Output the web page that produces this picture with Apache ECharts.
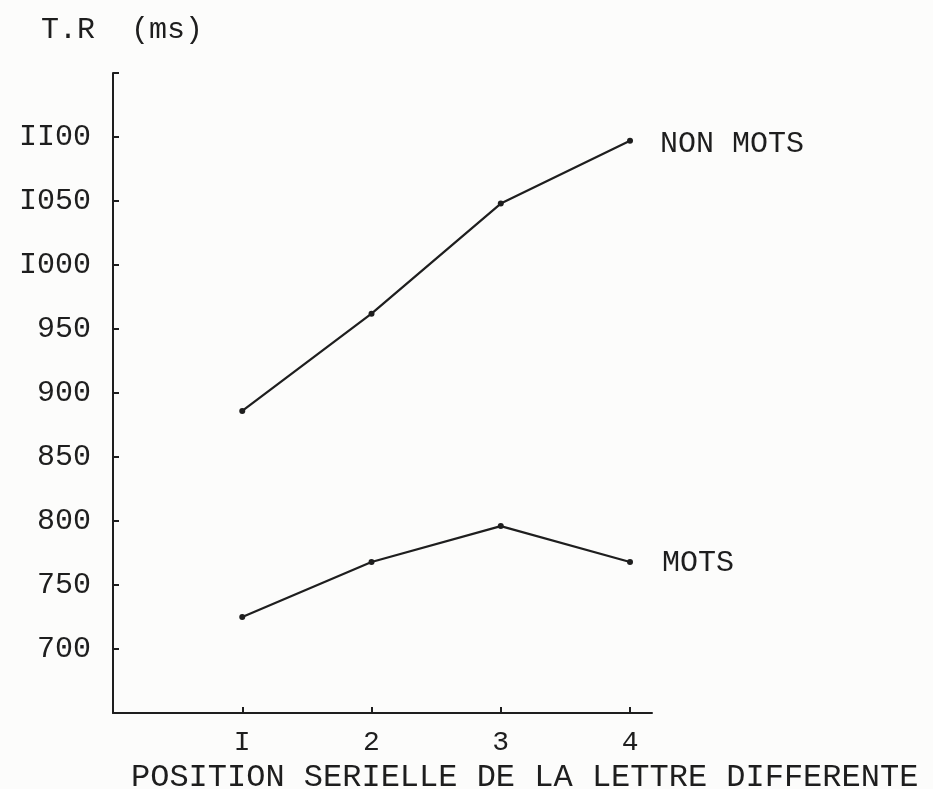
<!DOCTYPE html>
<html>
<head>
<meta charset="utf-8">
<script src="https://cdn.jsdelivr.net/npm/echarts@6/dist/echarts.min.js"></script>
<style>
html,body{margin:0;padding:0;background:#fcfcfb;}
#chart{width:933px;height:789px;}
</style>
</head>
<body>
<div id="chart"></div>
<script>
var positions = [1, 2, 3, 4];
var xTickLabels = ['', 'I', '2', '3', '4'];
var nonMots = [886, 962, 1048, 1097];
var mots = [725, 768, 796, 768];
var yTickLabels = {700:'700',750:'750',800:'800',850:'850',900:'900',950:'950',1000:'I000',1050:'I050',1100:'II00'};
var seriesNames = ['NON MOTS', 'MOTS'];

var FONT = '"Liberation Mono", "DejaVu Sans Mono", monospace';
var INK = '#1e1e1e';

function pairs(vals){ return positions.map(function(p,i){ return [p, vals[i]]; }); }

var chart = echarts.init(document.getElementById('chart'));
chart.setOption({
  backgroundColor: '#fcfcfb',
  animation: false,
  title: [
    {text: 'T.R  (ms)', left: 36, top: 10,
     textStyle: {fontFamily: FONT, fontSize: 30, fontWeight: 'normal', color: INK}},
    {text: 'POSITION SERIELLE DE LA LETTRE DIFFERENTE', left: 126, top: 757,
     textStyle: {fontFamily: FONT, fontSize: 32, fontWeight: 'normal', color: INK}}
  ],
  grid: {left: 113, right: 281, top: 73, bottom: 76},
  xAxis: {
    type: 'value', min: 0, max: 4.17, interval: 1,
    axisLine: {lineStyle: {color: INK, width: 2}},
    axisTick: {inside: true, length: 6, lineStyle: {color: INK, width: 2}},
    splitLine: {show: false},
    axisLabel: {
      margin: 16, fontFamily: FONT, fontSize: 28, color: INK,
      showMaxLabel: false,
      formatter: function(v){ return xTickLabels[v] || ''; }
    }
  },
  yAxis: {
    type: 'value', min: 650, max: 1150, interval: 50,
    axisLine: {show: true, lineStyle: {color: INK, width: 2}},
    axisTick: {show: true, inside: true, length: 6, lineStyle: {color: INK, width: 2}},
    splitLine: {show: false},
    axisLabel: {
      margin: 22, fontFamily: FONT, fontSize: 30, color: INK,
      formatter: function(v){ return yTickLabels[v] || ''; }
    }
  },
  series: [
    {name: seriesNames[0], type: 'line', data: pairs(nonMots),
     symbol: 'circle', symbolSize: 6,
     lineStyle: {color: INK, width: 2.2}, itemStyle: {color: INK},
     endLabel: {show: true, formatter: '{a}', distance: 30, offset: [0, 3],
       fontFamily: FONT, fontSize: 30, color: INK}},
    {name: seriesNames[1], type: 'line', data: pairs(mots),
     symbol: 'circle', symbolSize: 6,
     lineStyle: {color: INK, width: 2.2}, itemStyle: {color: INK},
     endLabel: {show: true, formatter: '{a}', distance: 32, offset: [0, 1],
       fontFamily: FONT, fontSize: 30, color: INK}}
  ]
});
</script>
</body>
</html>
